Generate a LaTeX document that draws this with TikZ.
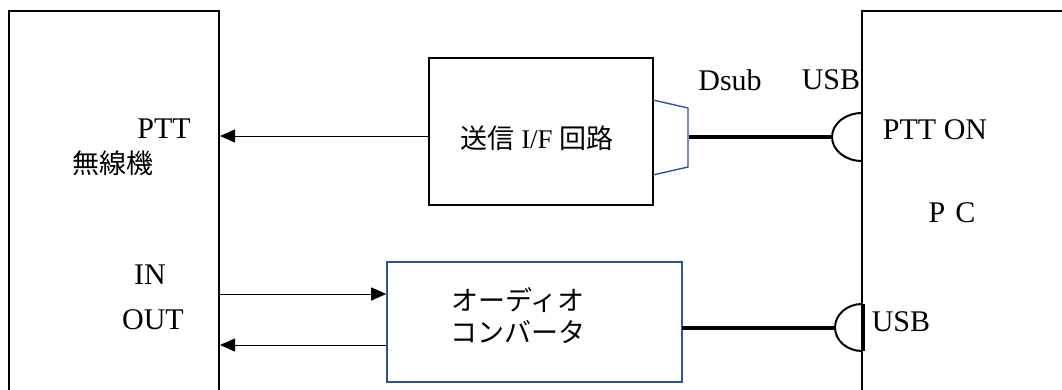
\documentclass[tikz,border=0pt]{standalone}
\usepackage{fontspec}
\setmainfont{Liberation Serif}
\newfontfamily\cjk{Noto Sans CJK JP}
\usetikzlibrary{arrows.meta}
\definecolor{boxblue}{RGB}{47,84,150}
\begin{document}
\begin{tikzpicture}[x=1pt,y=-1pt,
  lbl/.style={inner sep=0pt,font=\fontsize{30}{34}\selectfont},
  jlbl/.style={inner sep=0pt,font=\fontsize{27}{34}\selectfont\cjk},
  blk/.style={draw=black,line width=2pt,inner sep=0pt},
  bluebox/.style={draw=boxblue,line width=1.6pt,inner sep=0pt},
  arr/.style={line width=1pt,-{Triangle[length=15pt,width=13pt]}},
  cable/.style={line width=4pt},
  plug/.style={line width=2pt}]
\useasboundingbox (0,0) rectangle (1062,389);
\clip (0,0) rectangle (1062,389);
% main blocks (open at the picture edge)
\node[blk,minimum width=210pt,minimum height=409pt] (radio) at (114,215.5) {};
\node[blk,minimum width=248pt,minimum height=409pt] (pc) at (986,215.5) {};
\node[blk,minimum width=224pt,minimum height=147pt] (tx) at (541,131.5) {};
\node[bluebox,minimum width=295pt,minimum height=120pt] (audio) at (534.5,322) {};
% labels
\node[lbl] (pttl) at (164,129) {PTT};
\node[jlbl] (musen) at (113,163) {無線機};
\node[lbl] (inl) at (150,275) {IN};
\node[lbl] (outl) at (153,320) {OUT};
\node[inner sep=0pt,font=\fontsize{27}{34}\selectfont] (txl) at (537,138) {{\cjk 送信} I/F {\cjk 回路}};
\node[lbl] (dsubl) at (730,80) {Dsub};
\node[lbl] (usb1) at (831,80) {USB};
\node[lbl] (ptton) at (935,130) {PTT ON};
\node[lbl] (pcl) at (952,213) {P\,\,C};
\node[lbl] (usb2) at (901,322) {USB};
\node[jlbl] (au1) at (518,300) {オーディオ};
\node[jlbl] (au2) at (518,332) {コンバータ};
% signal arrows
\coordinate (yptt) at (0,136);
\coordinate (yin) at (0,294);
\coordinate (yout) at (0,345);
\draw[arr] (tx.west |- yptt) -- (radio.east |- yptt);
\draw[arr] (radio.east |- yin) -- (audio.west |- yin);
\draw[arr] (audio.west |- yout) -- (radio.east |- yout);
% Dsub connector
\draw[boxblue,line width=1.4pt] (653,100) -- (688,108) -- (688,167) -- (653,175);
\coordinate (dsubend) at (689,137);
% USB plug (top)
\coordinate (plug1top) at (862,113);
\coordinate (plug1tip) at (832,137);
\draw[cable] (dsubend) -- (plug1tip);
\draw[plug] (plug1top) arc[start angle=90,end angle=270,x radius=30pt,y radius=24pt];
% USB plug (bottom)
\coordinate (plug2top) at (862,304);
\coordinate (plug2tip) at (835,328);
\coordinate (audioout) at (682,328);
\draw[cable] (audioout) -- (plug2tip);
\draw[plug] (plug2top) arc[start angle=90,end angle=270,x radius=27pt,y radius=23.5pt];
\draw[line width=3pt] (863,304) -- (863,351);
\end{tikzpicture}
\end{document}
